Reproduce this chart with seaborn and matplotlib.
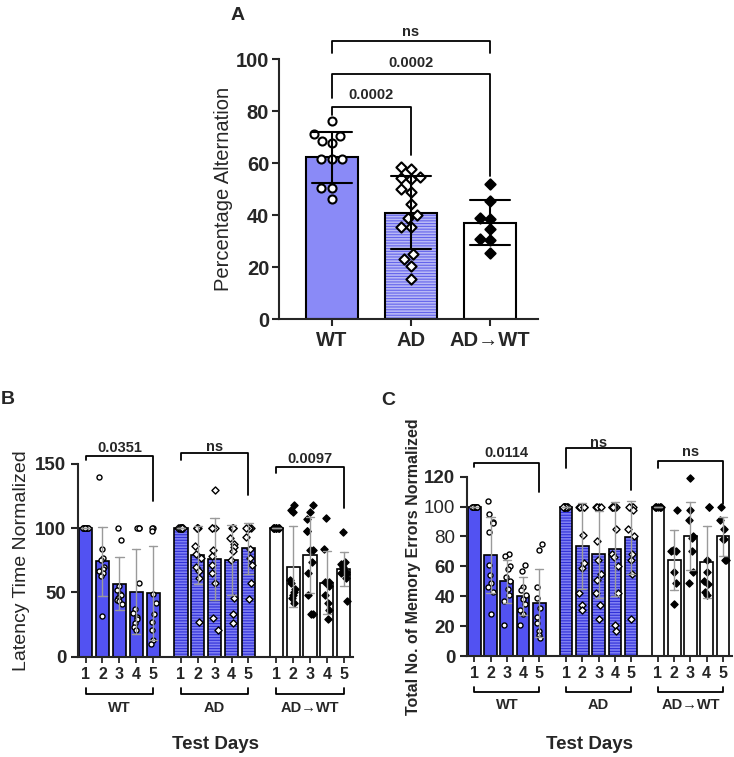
import matplotlib
matplotlib.use("Agg")
import matplotlib.pyplot as plt
from matplotlib.patches import Rectangle
import seaborn as sns
import pandas as pd
import numpy as np

groups = ["WT", "AD", "AD\u2192WT"]
days = [1, 2, 3, 4, 5]

# --- A: percentage alternation (one value per animal) ---
alt_wt = [76.4, 71.4, 70.3, 68.7, 67.7, 61.5, 61.5, 61.5, 50.4, 50.4, 46.2]
alt_ad = [58.7, 57.8, 54.6, 54.5, 54.0, 50.0, 49.0, 44.4, 40.1, 38.8,
          35.4, 35.4, 25.0, 23.2, 20.6, 15.5]
alt_adwt = [51.9, 45.6, 39.1, 38.5, 34.9, 30.8, 30.5, 25.4]

# --- B: latency time normalized, one list per test day ---
lat_wt = [
    [100, 100, 100, 100, 100, 100, 100, 100, 100, 100],
    [140, 84, 77, 75, 70, 68, 67, 65, 63, 32],
    [100, 91, 55, 52, 49, 48, 46, 44, 43, 41],
    [100, 100, 100, 57, 37, 34, 31, 29, 26, 23, 21],
    [100, 100, 98, 49, 42, 33, 27, 21, 13, 10],
]
lat_ad = [
    [100, 100, 100, 100, 100, 100, 100, 100, 100, 100, 100],
    [100, 100, 100, 100, 86, 80, 77, 70, 67, 61, 27],
    [130, 100, 100, 100, 83, 78, 71, 65, 57, 30, 21],
    [100, 100, 100, 92, 88, 85, 82, 75, 46, 33, 26],
    [100, 100, 100, 100, 100, 93, 84, 77, 71, 57, 45],
]
lat_adwt = [
    [100, 100, 100, 100, 100, 100, 100, 100, 100, 100],
    [118, 114, 113, 60, 57, 53, 50, 48, 46, 42],
    [118, 113, 107, 98, 98, 83, 83, 74, 65, 48, 33, 33],
    [108, 84, 58, 58, 55, 48, 42, 36, 29],
    [97, 74, 72, 70, 68, 66, 65, 64, 61, 43],
]

# --- C: total memory errors normalized ---
err_wt = [
    [100, 100, 100, 100, 100, 100, 100, 100, 100, 100],
    [104, 95, 90, 89, 83, 61, 54, 49, 46, 43, 28],
    [68, 67, 60, 58, 53, 50, 45, 41, 37, 21],
    [61, 57, 46, 44, 41, 38, 35, 31, 28, 21],
    [75, 71, 46, 39, 32, 26, 22, 17, 14, 12],
]
err_ad = [
    [100, 100, 100, 100, 100, 100, 100, 100, 100, 100, 100],
    [100, 100, 100, 100, 100, 81, 62, 59, 42, 34, 31],
    [100, 100, 100, 100, 77, 64, 55, 51, 42, 34, 25],
    [100, 100, 100, 100, 100, 85, 68, 66, 60, 42, 21, 17],
    [100, 100, 100, 100, 98, 85, 80, 68, 64, 55, 25],
]
err_adwt = [
    [100, 100, 100, 100, 100, 100, 100],
    [98, 71, 70, 70, 56, 49, 35],
    [119, 98, 91, 80, 79, 70, 56, 49],
    [100, 100, 64, 56, 50, 48, 43, 41],
    [100, 91, 85, 78, 78, 64, 64],
]

GAP = 5.65  # spacing between the day-1 bars of consecutive groups

sns.set_theme(style="ticks")
plt.rcParams["font.family"] = ["Liberation Sans", "DejaVu Sans"]
plt.rcParams["hatch.linewidth"] = 0.8
plt.rcParams["axes.linewidth"] = 1.5
np.random.seed(3)  # fixed jitter for the strip points


def hatch_bars(ax, patches, line_color, lw):
    # blue stripes inside, black outline on top
    for p in patches:
        p.set_hatch("------")
        p.set_edgecolor(line_color)
        p.set_linewidth(0)
        ax.add_patch(Rectangle(p.get_xy(), p.get_width(), p.get_height(),
                               fill=False, edgecolor="black", lw=lw, zorder=p.get_zorder() + 0.01))


def bracket(ax, x1, x2, y, y1, y2, label, pad, fs=10.5):
    ax.plot([x1, x1, x2, x2], [y1, y, y, y2], color="black", lw=1.3, clip_on=False)
    ax.annotate(label, xy=((x1 + x2) / 2, y), xytext=(0, pad), textcoords="offset points",
                ha="center", va="baseline", fontsize=fs, fontweight="bold", annotation_clip=False)


def to_long(series_list):
    rows = []
    for gi, (g, series) in enumerate(zip(groups, series_list)):
        for d, vals in zip(days, series):
            for v in vals:
                rows.append({"group": g, "day": d, "pos": gi * GAP + d - 1, "value": v})
    return pd.DataFrame(rows)


fig = plt.figure(figsize=(7.34, 7.57), dpi=100)

# ================= A =================
axA = fig.add_axes([0.380, 0.578, 0.353, 0.344])
dfA = pd.DataFrame({
    "group": [groups[0]] * len(alt_wt) + [groups[1]] * len(alt_ad) + [groups[2]] * len(alt_adwt),
    "value": alt_wt + alt_ad + alt_adwt,
})
a_colors = {groups[0]: "#8a8af7", groups[1]: "#b9b9f6", groups[2]: "white"}
sns.barplot(data=dfA, x="group", y="value", order=groups, hue="group", palette=a_colors,
            saturation=1, errorbar="sd", capsize=0.5, width=0.66, edgecolor="black",
            linewidth=1.5, err_kws={"color": "black", "linewidth": 1.5, "zorder": 4},
            legend=False, ax=axA)
ad_patch = [p for p in axA.patches if abs(p.get_x() + p.get_width() / 2 - 1) < 0.1]
hatch_bars(axA, ad_patch, "#6464ec", 1.5)

a_marks = {groups[0]: ("o", "white", 5.8), groups[1]: ("D", "white", 5.2), groups[2]: ("D", "black", 5.2)}
for g in groups:
    m, c, s = a_marks[g]
    sns.swarmplot(data=dfA[dfA["group"] == g], x="group", y="value", order=groups,
                  marker=m, color=c, edgecolor="black", linewidth=1.5, size=s,
                  warn_thresh=1, zorder=3, ax=axA)

axA.set_ylim(0, 100)
axA.set_xlim(-0.67, 2.61)
axA.set_yticks([0, 20, 40, 60, 80, 100])
axA.set_xlabel("")
axA.set_ylabel("Percentage Alternation", fontsize=14.5, labelpad=2)
axA.tick_params(axis="y", labelsize=14.5, length=5, width=1.5, pad=2)
axA.tick_params(axis="x", labelsize=14.5, length=5, width=1.5)
plt.setp(axA.get_xticklabels() + axA.get_yticklabels(), fontweight="bold")
sns.despine(ax=axA)

bracket(axA, 0, 1, 81.7, 78.6, 63.2, "0.0002", 5.4)
bracket(axA, 0, 2, 94.3, 85.0, 54.9, "0.0002", 5.2)
bracket(axA, 0, 2, 106.8, 102.4, 102.4, "ns", 3.6)


# ================= B and C =================
def day_panel(ax, series_list, wt_col, ad_face, ad_line, ms):
    df = to_long(series_list)
    face = {groups[0]: wt_col, groups[1]: ad_face, groups[2]: "white"}
    marks = {groups[0]: ("o", "white"), groups[1]: ("D", "white"), groups[2]: ("D", "black")}
    for g in groups:
        sub = df[df["group"] == g]
        n0 = len(ax.patches)
        sns.barplot(data=sub, x="pos", y="value", native_scale=True, errorbar="sd",
                    capsize=0.5, width=0.78, color=face[g], saturation=1,
                    edgecolor="black", linewidth=1.2,
                    err_kws={"color": "#9a9a9a", "linewidth": 1.0, "zorder": 4}, ax=ax)
        if g == groups[1]:
            hatch_bars(ax, ax.patches[n0:], ad_line, 1.2)
        m, c = marks[g]
        sns.stripplot(data=sub, x="pos", y="value", native_scale=True, jitter=0.2,
                      marker=m, color=c, edgecolor="black", linewidth=1.0, size=ms,
                      zorder=3, ax=ax)
    for coll in ax.collections:
        coll.set_clip_on(False)
    pos = sorted(df["pos"].unique())
    ax.set_xticks(pos)
    ax.set_xticklabels(days * 3)
    ax.set_xlim(pos[0] - 0.45, pos[-1] + 0.55)
    ax.set_xlabel("")
    ax.tick_params(axis="x", labelsize=11.5, length=4, width=1.3)
    ax.tick_params(axis="y", labelsize=13.5, length=5, width=1.5)
    plt.setp(ax.get_xticklabels() + ax.get_yticklabels(), fontweight="bold")
    sns.despine(ax=ax)
    return pos


def group_brackets(ax, pos, y_line, y_leg, y_text, y_title, x_title):
    tr = ax.get_xaxis_transform()
    for gi, g in enumerate(groups):
        x1, x2 = pos[gi * 5], pos[gi * 5 + 4]
        ax.plot([x1, x1, x2, x2], [y_leg, y_line, y_line, y_leg], color="black", lw=1.3,
                transform=tr, clip_on=False)
        ax.text((x1 + x2) / 2, y_text, g, transform=tr, ha="center", va="center",
                fontsize=10.5, fontweight="bold")
    ax.text(x_title, y_title, "Test Days", transform=ax.transAxes, ha="center", va="center",
            fontsize=13.5, fontweight="bold")


axB = fig.add_axes([0.1063, 0.1325, 0.3747, 0.2546])
posB = day_panel(axB, [lat_wt, lat_ad, lat_adwt], "#5252f2", "#8080f3", "#3030d8", 3.6)
axB.set_ylim(0, 150)
axB.set_yticks([0, 50, 100, 150])
axB.set_ylabel("Latency Time Normalized", fontsize=14)
group_brackets(axB, posB, -0.194, -0.162, -0.266, -0.458, 0.5)
bracket(axB, posB[0], posB[4], 156.3, 153, 121.5, "0.0351", 3.0)
bracket(axB, posB[5], posB[9], 158.9, 153, 126, "ns", 0.8)
bracket(axB, posB[10], posB[14], 147.5, 143, 115.5, "0.0097", 3.0)

axC = fig.add_axes([0.6362, 0.1334, 0.361, 0.2369])
posC = day_panel(axC, [err_wt, err_ad, err_adwt], "#5252f2", "#8080f3", "#3030d8", 3.6)
axC.set_ylim(0, 120)
axC.set_yticks([0, 20, 40, 60, 80, 100, 120])
axC.set_ylabel("Total No. of Memory Errors Normalized", fontsize=11.5, fontweight="bold",
               labelpad=2)
group_brackets(axC, posC, -0.201, -0.173, -0.273, -0.496, 0.464)
bracket(axC, posC[0], posC[4], 129.4, 126.3, 110, "0.0114", 4.0)
bracket(axC, posC[5], posC[9], 139, 125.6, 111.1, "ns", 1.2)
bracket(axC, posC[10], posC[14], 130.5, 125.6, 101.7, "ns", 3.6)

# panel letters
fig.text(238 / 734, 1 - 15 / 757, "A", fontsize=14, fontweight="bold", ha="center", va="center")
fig.text(8 / 734, 1 - 399 / 757, "B", fontsize=14, fontweight="bold", ha="center", va="center")
fig.text(388 / 734, 1 - 400 / 757, "C", fontsize=14, fontweight="bold", ha="center", va="center")

fig.savefig("out.png", dpi=100)
